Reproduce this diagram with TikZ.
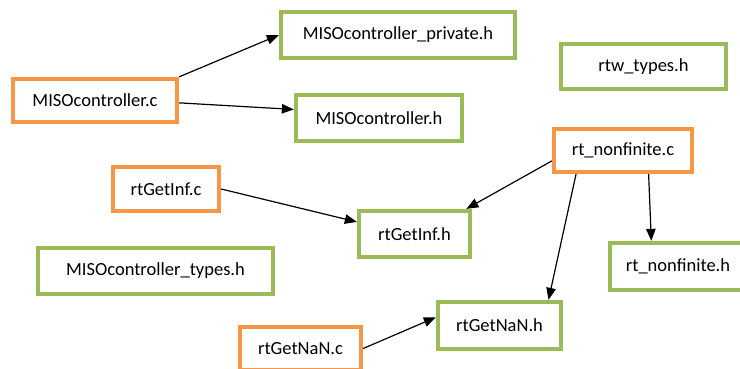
\documentclass[tikz,border=0pt]{standalone}
\usepackage{fontspec}
\setmainfont{Carlito}
\usetikzlibrary{arrows.meta,calc}
\definecolor{boxorange}{HTML}{F79646}
\definecolor{boxgreen}{HTML}{9BBB59}
\tikzset{
  filebox/.style={draw, line width=3.8pt, fill=white, inner sep=0pt, align=center,
    font=\fontsize{18.5}{22}\selectfont},
  cfile/.style={filebox, draw=boxorange},
  hfile/.style={filebox, draw=boxgreen},
  dep/.style={line width=1.2pt, -{Triangle[length=12pt,width=9.5pt]}}
}
\begin{document}
\begin{tikzpicture}[x=1pt,y=-1pt]
\useasboundingbox (0,0) rectangle (740,369);
\clip (0,0) rectangle (740,369);
\fill[white] (0,0) rectangle (740,369);
% source files
\node[cfile, minimum width=164.5pt, minimum height=43.5pt] (mc) at (95,100.5) {MISOcontroller.c};
\node[cfile, minimum width=138.5pt, minimum height=43.5pt] (rnc) at (623,150.5) {rt\_nonfinite.c};
\node[cfile, minimum width=106.5pt, minimum height=44.5pt] (gic) at (166,189) {rtGetInf.c};
\node[cfile, minimum width=121.5pt, minimum height=43.5pt] (gnc) at (300.5,348.5) {rtGetNaN.c};
% header files
\node[hfile, minimum width=234.5pt, minimum height=46.5pt] (priv) at (398,35) {MISOcontroller\_private.h};
\node[hfile, minimum width=166.5pt, minimum height=46.5pt] (mh) at (379,118) {MISOcontroller.h};
\node[hfile, minimum width=165.5pt, minimum height=45.5pt] (rtw) at (643.5,66.5) {rtw\_types.h};
\node[hfile, minimum width=111.5pt, minimum height=46.5pt] (gih) at (414.5,234) {rtGetInf.h};
\node[hfile, minimum width=235.5pt, minimum height=46.5pt] (mt) at (155.5,271) {MISOcontroller\_types.h};
\node[hfile, minimum width=123.5pt, minimum height=47.5pt] (gnh) at (499.5,325.5) {rtGetNaN.h};
\node[hfile, minimum width=136.5pt, minimum height=47.5pt] (rnh) at (678,266.5) {rt\_nonfinite.h};
% dependencies
\draw[dep] (mc.north east) -- (priv.west);
\draw[dep] ($(mc.north east)!0.55!(mc.south east)$) -- ($(mh.north west)!0.33!(mh.south west)$);
\draw[dep] (gic.east) -- ($(gih.north west)!0.26!(gih.south west)$);
\draw[dep] ($(rnc.north west)!0.72!(rnc.south west)$) -- ($(gih.north west)!0.95!(gih.north east)$);
\draw[dep] ($(rnc.south west)!0.17!(rnc.south east)$) -- ($(gnh.north west)!0.885!(gnh.north east)$);
\draw[dep] ($(rnc.south west)!0.68!(rnc.south east)$) -- ($(rnh.north west)!0.31!(rnh.north east)$);
\draw[dep] (gnc.east) -- ($(gnh.north west)!0.34!(gnh.south west)$);
\end{tikzpicture}
\end{document}
